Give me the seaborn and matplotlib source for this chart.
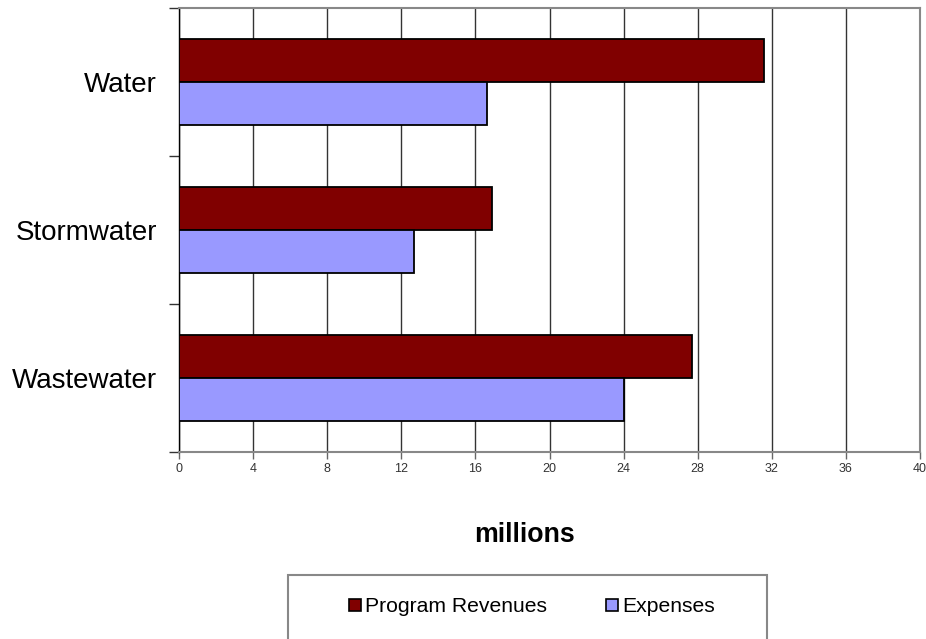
import numpy as np
import pandas as pd
import matplotlib
matplotlib.use("Agg")
import matplotlib.pyplot as plt
import seaborn as sns
from matplotlib.patches import Patch, Rectangle

# data
categories = ["Water", "Stormwater", "Wastewater"]
revenues = [31.6, 16.9, 27.7]
expenses = [16.6, 12.7, 24.0]
series = ["Program Revenues", "Expenses"]
colors = ["#800000", "#9999FF"]
x_ticks = list(range(0, 41, 4))

df = pd.DataFrame({
    "category": categories * 2,
    "value": revenues + expenses,
    "series": [series[0]] * 3 + [series[1]] * 3,
})

sns.set_style("white")
plt.rcParams["font.family"] = ["Liberation Sans", "DejaVu Sans"]
plt.rcParams["text.color"] = "black"

fig = plt.figure(figsize=(9.26, 6.39), dpi=100)
ax = fig.add_axes([179 / 926, 1 - 452 / 639, (920 - 179) / 926, (452 - 8) / 639])

sns.barplot(data=df, y="category", x="value", hue="series", orient="h",
            order=categories, hue_order=series, palette=colors,
            width=0.575, edgecolor="black", linewidth=1.3, saturation=1,
            legend=False, ax=ax, zorder=3)

ax.set_xlim(0, 40)
ax.set_ylim(2.5, -0.5)
ax.set_xticks(x_ticks)
ax.set_xticklabels([str(t) for t in x_ticks], fontsize=9, color="#333333")
ax.xaxis.grid(True, color="#333333", linewidth=1.0, zorder=0)
ax.set_axisbelow(True)

# category labels without ticks, boundary ticks outward
ax.tick_params(axis="y", which="major", left=False, length=0, pad=16, labelsize=20,
               labelcolor="black")
ax.set_yticks([-0.5, 0.5, 1.5, 2.5], minor=True)
ax.tick_params(axis="y", which="minor", left=True, length=7, width=1,
               color="#333333", direction="out")
ax.tick_params(axis="x", bottom=True, length=5, width=1, color="#666666",
               direction="out", pad=3)
ax.set_xlabel("")
ax.set_ylabel("")

for side in ["top", "right", "bottom"]:
    ax.spines[side].set_color("#888888")
    ax.spines[side].set_linewidth(1.5)
ax.spines["left"].set_color("black")
ax.spines["left"].set_linewidth(1.0)

fig.text(525 / 926, 1 - 535 / 639, "millions", fontsize=19.3, fontweight="bold",
         ha="center", va="center", color="black")

# legend box running off the bottom edge
fig.patches.append(Rectangle((288 / 926, -0.05), (767 - 288) / 926, 1 - 575 / 639 + 0.05,
                             transform=fig.transFigure, fill=False,
                             edgecolor="#888888", linewidth=1.5))
handles = [Patch(facecolor=c, edgecolor="black", linewidth=1.2) for c in colors]
leg = fig.legend(handles, series, loc="center", bbox_to_anchor=(532 / 926, 1 - 607 / 639),
                 ncol=2, frameon=False, fontsize=15.2, handlelength=0.55, handleheight=0.55,
                 handletextpad=0.2, columnspacing=2.8)
for t in leg.get_texts():
    t.set_color("black")

fig.savefig("out.png", dpi=100)
